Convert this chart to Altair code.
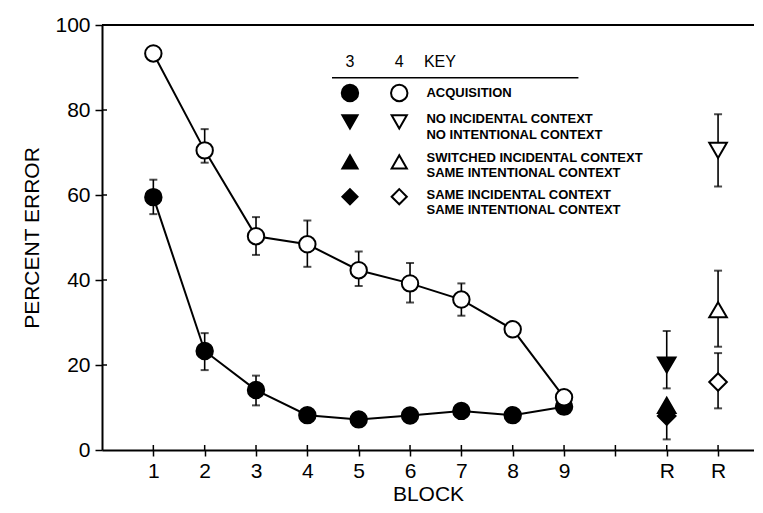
import altair as alt
import pandas as pd

# ---- data ----
blocks = [1, 2, 3, 4, 5, 6, 7, 8, 9]
acq3 = [59.5, 23.3, 14.1, 8.2, 7.2, 8.1, 9.2, 8.2, 10.2]
acq3_lo = [55.5, 18.8, 10.5, None, None, None, None, None, None]
acq3_hi = [63.6, 27.5, 17.5, None, None, None, None, None, None]
acq4 = [93.3, 70.5, 50.3, 48.4, 42.3, 39.2, 35.4, 28.4, 12.4]
acq4_lo = [None, 67.6, 45.9, 43.1, 38.6, 34.7, 31.6, None, None]
acq4_hi = [None, 75.5, 54.8, 54.0, 46.7, 44.0, 39.2, None, None]

# retention test points (R): x position 11 = condition 3, 12 = condition 4
ret_x = [11, 11, 11, 12, 12, 12]
ret_y = [20.0, 10.5, 8.0, 70.5, 33.0, 16.0]
ret_lo = [14.5, None, 2.5, 62.0, 24.3, 9.8]
ret_hi = [28.0, None, None, 79.0, 42.2, 22.8]
ret_shape = ["triangle-down", "triangle-up", "diamond", "triangle-down", "triangle-up", "diamond"]
ret_fill = ["black", "black", "black", "white", "white", "white"]

y_ticks = [0, 20, 40, 60, 80, 100]
x_ticks = [1, 2, 3, 4, 5, 6, 7, 8, 9, 10, 11, 12]

legend_cols = ["3", "4", "KEY"]
legend_shapes = ["circle", "triangle-down", "triangle-up", "diamond"]
legend_text = [
    ["ACQUISITION"],
    ["NO INCIDENTAL CONTEXT", "NO INTENTIONAL CONTEXT"],
    ["SWITCHED INCIDENTAL CONTEXT", "SAME INTENTIONAL CONTEXT"],
    ["SAME INCIDENTAL CONTEXT", "SAME INTENTIONAL CONTEXT"],
]

# ---- tables ----
rows = []
for b, v, lo, hi in zip(blocks, acq3, acq3_lo, acq3_hi):
    rows.append(dict(x=b, y=v, lo=lo, hi=hi, series="acq3", shape="circle", fill="black"))
for b, v, lo, hi in zip(blocks, acq4, acq4_lo, acq4_hi):
    rows.append(dict(x=b, y=v, lo=lo, hi=hi, series="acq4", shape="circle", fill="white"))
for x, v, lo, hi, s, f in zip(ret_x, ret_y, ret_lo, ret_hi, ret_shape, ret_fill):
    rows.append(dict(x=x, y=v, lo=lo, hi=hi, series="ret", shape=s, fill=f))
df = pd.DataFrame(rows)

caps = []
for r in rows:
    for k in ("lo", "hi"):
        if r[k] is not None:
            caps.append(dict(x=r["x"], y=r[k]))
caps_df = pd.DataFrame(caps)
bars_df = df.copy()
bars_df["lo2"] = bars_df["lo"].fillna(bars_df["y"])
bars_df["hi2"] = bars_df["hi"].fillna(bars_df["y"])
bars_df = bars_df[["x", "y", "lo2", "hi2"]]

XMAX = 12.7
W, H = 652, 425
xs = alt.Scale(domain=[0, XMAX], nice=False, zero=False)
ys = alt.Scale(domain=[0, 100], nice=False)
FONT = "Liberation Sans"
AXF = 21

x_axis = alt.Axis(values=x_ticks, title="BLOCK", grid=False, tickSize=6, tickWidth=1.5,
                  tickColor="black", domainColor="black", domainWidth=2,
                  labelFont=FONT, labelFontSize=AXF, labelColor="black", labelPadding=4,
                  labelExpr="datum.value >= 11 ? 'R' : (datum.value == 10 ? '' : datum.label)",
                  titleFont=FONT, titleFontSize=AXF, titleFontWeight="normal", titleColor="black",
                  titlePadding=2)
y_axis = alt.Axis(values=y_ticks, title="PERCENT ERROR", grid=False, tickSize=7, tickWidth=1.5,
                  tickColor="black", domainColor="black", domainWidth=2,
                  labelFont=FONT, labelFontSize=AXF, labelColor="black", labelPadding=5,
                  titleFont=FONT, titleFontSize=AXF, titleFontWeight="normal", titleColor="black",
                  titlePadding=12)

base = alt.Chart(df)

lines = base.transform_filter("datum.series != 'ret'").mark_line(
    color="black", strokeWidth=2).encode(
    x=alt.X("x:Q", scale=xs, axis=x_axis),
    y=alt.Y("y:Q", scale=ys, axis=y_axis),
    detail="series:N")

bars = alt.Chart(bars_df).mark_rule(color="black", strokeWidth=1.6).encode(
    x=alt.X("x:Q", scale=xs), y=alt.Y("lo2:Q", scale=ys), y2="hi2:Q")

capmarks = alt.Chart(caps_df).mark_tick(orient="horizontal", color="black",
                                         size=8, thickness=2).encode(
    x=alt.X("x:Q", scale=xs), y=alt.Y("y:Q", scale=ys))

points = base.mark_point(filled=True, stroke="black", strokeWidth=2, opacity=1).encode(
    x=alt.X("x:Q", scale=xs), y=alt.Y("y:Q", scale=ys),
    shape=alt.Shape("shape:N", scale=None),
    fill=alt.Fill("fill:N", scale=None),
    size=alt.condition("datum.shape == 'circle'", alt.value(270), alt.value(310)))

# frame top line and inward tick halves
top_df = pd.DataFrame({"x": [0], "x2": [XMAX], "y": [100]})
top = alt.Chart(top_df).mark_rule(color="black", strokeWidth=2).encode(
    x=alt.X("x:Q", scale=xs), x2="x2:Q", y=alt.Y("y:Q", scale=ys))
yin = alt.Chart(pd.DataFrame({"y": y_ticks[1:5]})).mark_rule(color="black", strokeWidth=1.5).encode(
    y=alt.Y("y:Q", scale=ys), x=alt.value(0), x2=alt.value(5))
xin = alt.Chart(pd.DataFrame({"x": x_ticks})).mark_rule(color="black", strokeWidth=1.5).encode(
    x=alt.X("x:Q", scale=xs), y=alt.value(H), y2=alt.value(H - 5))

# ---- key (in data units) ----
KX3, KX4, KXT = 4.83, 5.79, 6.32
row_y = [84.0, 77.2, 67.8, 59.6]
text_y = [[84.0], [78.0, 74.2], [68.8, 65.2], [60.1, 56.5]]
hdr_c = alt.Chart(pd.DataFrame({"x": [KX3, KX4], "y": [91.4] * 2, "t": legend_cols[:2]})).mark_text(
    font=FONT, fontSize=16, color="black", baseline="middle", align="center").encode(
    x=alt.X("x:Q", scale=xs), y=alt.Y("y:Q", scale=ys), text="t:N")
hdr_k = alt.Chart(pd.DataFrame({"x": [KXT - 0.05], "y": [91.4], "t": [legend_cols[2]]})).mark_text(
    font=FONT, fontSize=16, color="black", baseline="middle", align="left").encode(
    x=alt.X("x:Q", scale=xs), y=alt.Y("y:Q", scale=ys), text="t:N")
hline = alt.Chart(pd.DataFrame({"x": [4.48], "x2": [9.28], "y": [87.6]})).mark_rule(
    color="black", strokeWidth=1.5).encode(
    x=alt.X("x:Q", scale=xs), x2="x2:Q", y=alt.Y("y:Q", scale=ys))

kp = []
for s, yy in zip(legend_shapes, row_y):
    kp.append(dict(x=KX3, y=yy, shape=s, fill="black"))
    kp.append(dict(x=KX4, y=yy, shape=s, fill="white"))
key_pts = alt.Chart(pd.DataFrame(kp)).mark_point(filled=True, stroke="black", strokeWidth=2,
                                                   opacity=1).encode(
    x=alt.X("x:Q", scale=xs), y=alt.Y("y:Q", scale=ys),
    shape=alt.Shape("shape:N", scale=None), fill=alt.Fill("fill:N", scale=None),
    size=alt.condition("datum.shape == 'circle'", alt.value(270), alt.value(230)))

kt = []
for lines_t, ys_t in zip(legend_text, text_y):
    for t, yy in zip(lines_t, ys_t):
        kt.append(dict(x=KXT, y=yy, t=t))
key_txt = alt.Chart(pd.DataFrame(kt)).mark_text(
    font=FONT, fontSize=13, fontWeight="bold", color="black", align="left",
    baseline="middle").encode(
    x=alt.X("x:Q", scale=xs), y=alt.Y("y:Q", scale=ys), text="t:N")

chart = alt.layer(lines, bars, capmarks, top, yin, xin, points,
                  hline, hdr_c, hdr_k, key_pts, key_txt).properties(
    width=W, height=H,
    autosize=alt.AutoSizeParams(type="none"),
    padding={"left": 94, "top": 17, "right": 0, "bottom": 55},
).configure_view(stroke=None).configure(background="white")

chart.save("out.html", embed_options={"renderer": "svg", "actions": False})
